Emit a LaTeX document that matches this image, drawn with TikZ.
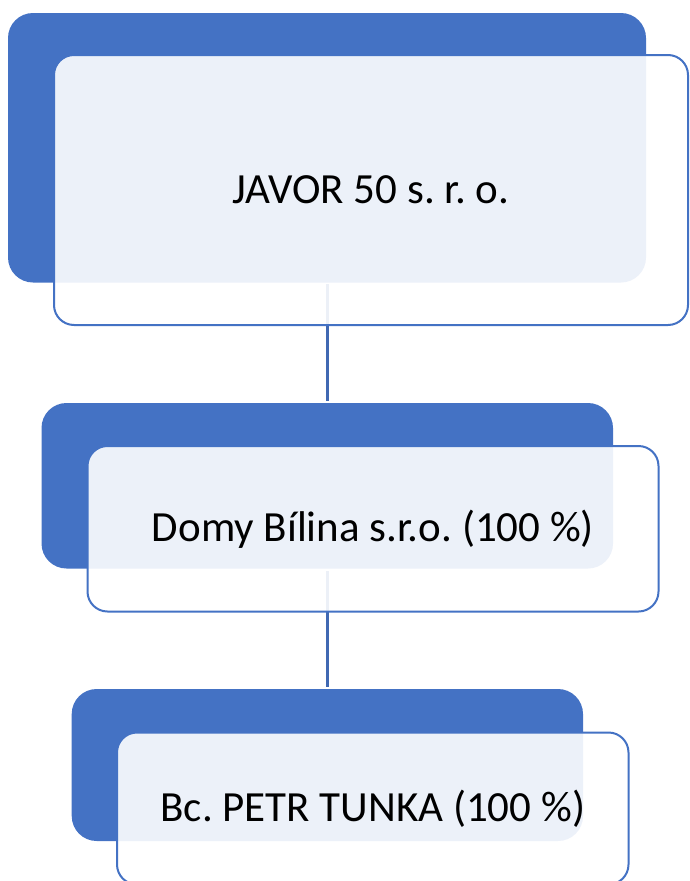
\documentclass[tikz,border=0pt]{standalone}
\usepackage{fontspec}
\setmainfont{Carlito}
\frenchspacing
\definecolor{accent}{HTML}{4472C4}
\definecolor{connc}{HTML}{4068B2}
\begin{document}
\begin{tikzpicture}[x=1pt,y=-1pt,
  backbox/.style={draw=none,fill=accent,rounded corners=25pt,inner sep=0pt,anchor=center},
  frontbox/.style={draw=accent,line width=2pt,fill=white,fill opacity=0.9,text opacity=1,
    rounded corners=20pt,inner sep=0pt,anchor=center,align=center,
    font=\fontsize{43}{50}\selectfont\frenchspacing},
  conn/.style={draw=connc,line width=2.6pt}]
\useasboundingbox (0,0) rectangle (690,881);
\clip (0,0) rectangle (690,881);
% level 1
\node[backbox,minimum width=638pt,minimum height=269.5pt] (b1) at (327,147.75) {};
\coordinate (c1s) at (327.3,284);
\coordinate (c1e) at (327.3,401);
\draw[conn] (c1s) -- (c1e);
\node[frontbox,minimum width=634pt,minimum height=270pt] (f1) at (371,190) {JAVOR 50 s. r. o.};
% level 2
\node[backbox,minimum width=571.5pt,minimum height=165.5pt] (b2) at (327.25,485.75) {};
\coordinate (c2s) at (327.3,571);
\coordinate (c2e) at (327.3,687);
\draw[conn] (c2s) -- (c2e);
\node[frontbox,minimum width=571pt,minimum height=165.5pt] (f2) at (373,528.75) {Domy Bílina s.r.o. (100 \%)};
% level 3
\node[backbox,minimum width=511.3pt,minimum height=152pt] (b3) at (327.35,765) {};
\node[frontbox,minimum width=511.5pt,minimum height=152pt] (f3) at (372.75,808.5) {Bc. PETR TUNKA (100 \%)};
\end{tikzpicture}
\end{document}
